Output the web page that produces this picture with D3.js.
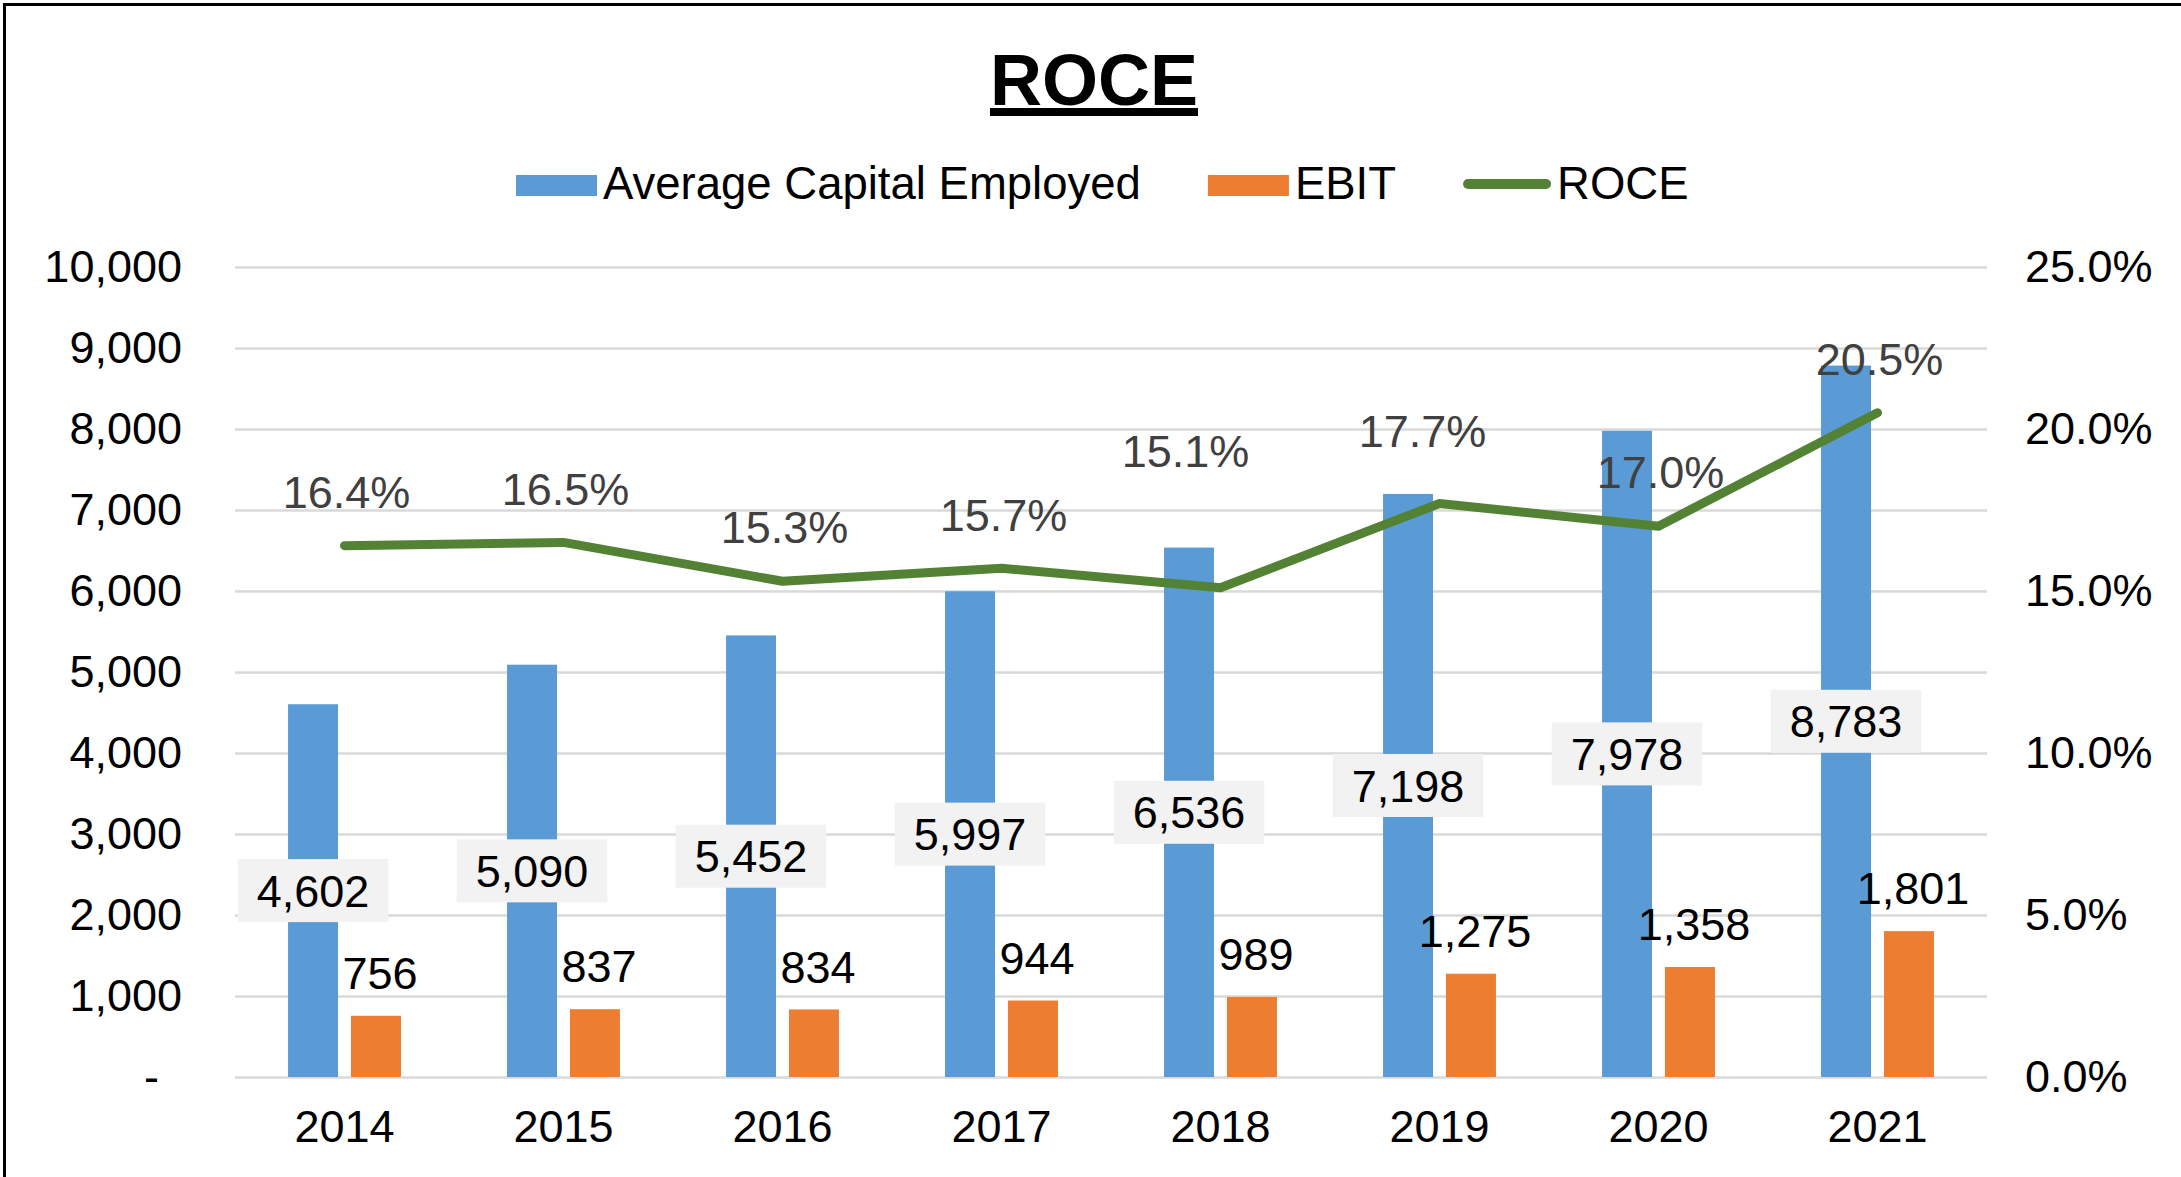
<!DOCTYPE html>
<html lang="en">
<head>
<meta charset="utf-8">
<title>ROCE</title>
<script src="https://d3js.org/d3.v7.min.js"></script>
<style>
  body { margin: 0; background: #fff; }
  svg text { font-family: "Liberation Sans", Arial, sans-serif; }
</style>
</head>
<body>
<script>
// chart values
var years = ["2014", "2015", "2016", "2017", "2018", "2019", "2020", "2021"];
var capitalEmployed = [4602, 5090, 5452, 5997, 6536, 7198, 7978, 8783];
var ebit = [756, 837, 834, 944, 989, 1275, 1358, 1801];
var roce = [16.4, 16.5, 15.3, 15.7, 15.1, 17.7, 17.0, 20.5];
var leftTicks = [0, 1000, 2000, 3000, 4000, 5000, 6000, 7000, 8000, 9000, 10000];
var rightTicks = [0, 5, 10, 15, 20, 25];
var seriesNames = ["Average Capital Employed", "EBIT", "ROCE"];

var colors = { cap: "#5B9BD5", ebit: "#ED7D31", roce: "#548235" };
var width = 2181, height = 1177;
var plot = { left: 235, right: 1987, top: 267, bottom: 1077 };

// two ROCE labels were dragged by hand in the original
var roceLabelNudge = { "2018": [-35, -83], "2019": [-17, -19] };

var svg = d3.select("body").append("svg")
    .attr("width", width)
    .attr("height", height);

svg.append("rect")
    .attr("x", 4.5).attr("y", 4.5)
    .attr("width", width + 10).attr("height", height + 10)
    .attr("fill", "#fff")
    .attr("stroke", "#000")
    .attr("stroke-width", 3);

var x0 = d3.scaleBand().domain(years).range([plot.left, plot.right]);
var x1 = d3.scaleBand().domain(["cap", "ebit"])
    .range([0, x0.bandwidth()])
    .paddingInner(0.206)
    .paddingOuter(0.843);
var y = d3.scaleLinear().domain([0, 10000]).range([plot.bottom, plot.top]);
var y2 = d3.scaleLinear().domain([0, 25]).range([plot.bottom, plot.top]);

// title
var title = svg.append("text")
    .attr("x", 1094).attr("y", 105)
    .attr("text-anchor", "middle")
    .attr("font-size", 72)
    .attr("font-weight", "bold")
    .text("ROCE");
var tb = title.node().getBBox();
svg.append("rect")
    .attr("x", tb.x).attr("y", 108)
    .attr("width", tb.width).attr("height", 8)
    .attr("fill", "#000");

// legend
var legend = svg.append("g").attr("font-size", 45.5);
var lx = 516;
seriesNames.forEach(function(name, i) {
    if (i < 2) {
        legend.append("rect")
            .attr("x", lx).attr("y", 175)
            .attr("width", 81).attr("height", 21)
            .attr("fill", i == 0 ? colors.cap : colors.ebit);
        lx += 87;
    } else {
        legend.append("line")
            .attr("x1", lx + 5).attr("x2", lx + 83)
            .attr("y1", 184).attr("y2", 184)
            .attr("stroke", colors.roce)
            .attr("stroke-width", 10)
            .attr("stroke-linecap", "round");
        lx += 94;
    }
    var t = legend.append("text")
        .attr("x", lx).attr("y", 199)
        .text(name);
    lx += t.node().getComputedTextLength() + 67;
});

// gridlines
var grid = svg.append("g")
    .attr("transform", "translate(" + plot.left + ",0)")
    .call(d3.axisLeft(y).tickValues(leftTicks).tickSize(-(plot.right - plot.left)).tickFormat(""));
grid.select(".domain").remove();
grid.selectAll("line").attr("stroke", "#D9D9D9").attr("stroke-width", 2.5);

// left axis
var gLeft = svg.append("g")
    .attr("transform", "translate(" + plot.left + ",0)")
    .call(d3.axisLeft(y).tickValues(leftTicks).tickSize(0).tickPadding(53)
        .tickFormat(function(d) { return d === 0 ? "-" : d3.format(",")(d); }));
gLeft.select(".domain").remove();
gLeft.attr("font-size", 45).attr("font-family", null);
gLeft.selectAll("text").attr("fill", "#000");
gLeft.selectAll(".tick").filter(function(d) { return d === 0; })
    .select("text").attr("x", -76);

// right axis
var gRight = svg.append("g")
    .attr("transform", "translate(" + plot.right + ",0)")
    .call(d3.axisRight(y2).tickValues(rightTicks).tickSize(0).tickPadding(38)
        .tickFormat(function(d) { return d.toFixed(1) + "%"; }));
gRight.select(".domain").remove();
gRight.attr("font-size", 45).attr("font-family", null);
gRight.selectAll("text").attr("fill", "#000");

// bottom axis
var gBottom = svg.append("g")
    .attr("transform", "translate(0," + plot.bottom + ")")
    .call(d3.axisBottom(x0).tickSize(0).tickPadding(33));
gBottom.select(".domain").remove();
gBottom.attr("font-size", 45).attr("font-family", null);
gBottom.selectAll("text").attr("fill", "#000");

// bars
var rows = years.map(function(yr, i) {
    return { year: yr, cap: capitalEmployed[i], ebit: ebit[i], roce: roce[i] };
});

var groups = svg.selectAll(".yr")
    .data(rows)
    .enter()
    .append("g")
    .attr("class", "yr")
    .attr("transform", function(d) { return "translate(" + x0(d.year) + ",0)"; });

groups.append("rect")
    .attr("x", x1("cap"))
    .attr("y", function(d) { return y(d.cap); })
    .attr("width", x1.bandwidth())
    .attr("height", function(d) { return y(0) - y(d.cap); })
    .attr("fill", colors.cap);

groups.append("rect")
    .attr("x", x1("ebit"))
    .attr("y", function(d) { return y(d.ebit); })
    .attr("width", x1.bandwidth())
    .attr("height", function(d) { return y(0) - y(d.ebit); })
    .attr("fill", colors.ebit);

// ROCE line
var line = d3.line()
    .x(function(d) { return x0(d.year) + x0.bandwidth() / 2; })
    .y(function(d) { return y2(d.roce); });

svg.append("path")
    .datum(rows)
    .attr("d", line)
    .attr("fill", "none")
    .attr("stroke", colors.roce)
    .attr("stroke-width", 9)
    .attr("stroke-linejoin", "round")
    .attr("stroke-linecap", "round");

// capital employed labels, centred in the bar with a grey box
var capLabels = groups.append("g")
    .attr("transform", function(d) {
        return "translate(" + (x1("cap") + x1.bandwidth() / 2) + "," + y(d.cap / 2) + ")";
    });
var capBox = capLabels.append("rect").attr("fill", "#F2F2F2");
capLabels.append("text")
    .attr("text-anchor", "middle")
    .attr("dy", "0.36em")
    .attr("font-size", 45)
    .attr("fill", "#000")
    .text(function(d) { return d3.format(",")(d.cap); });
capLabels.each(function() {
    var g = d3.select(this);
    var w = g.select("text").node().getComputedTextLength() + 38;
    g.select("rect").attr("x", -w / 2).attr("y", -31.5).attr("width", w).attr("height", 63);
});

// EBIT labels above the bars
groups.append("text")
    .attr("x", x1("ebit") + x1.bandwidth() / 2 + 4)
    .attr("y", function(d) { return y(d.ebit) - 43; })
    .attr("dy", "0.36em")
    .attr("text-anchor", "middle")
    .attr("font-size", 45)
    .attr("fill", "#000")
    .text(function(d) { return d3.format(",")(d.ebit); });

// ROCE labels
groups.append("text")
    .attr("x", function(d) {
        var n = roceLabelNudge[d.year] || [2, 0];
        return x0.bandwidth() / 2 + n[0];
    })
    .attr("y", function(d) {
        var n = roceLabelNudge[d.year] || [0, 0];
        return y2(d.roce) - 54 + n[1];
    })
    .attr("dy", "0.36em")
    .attr("text-anchor", "middle")
    .attr("font-size", 45)
    .attr("fill", "#404040")
    .text(function(d) { return d.roce.toFixed(1) + "%"; });
</script>
</body>
</html>
